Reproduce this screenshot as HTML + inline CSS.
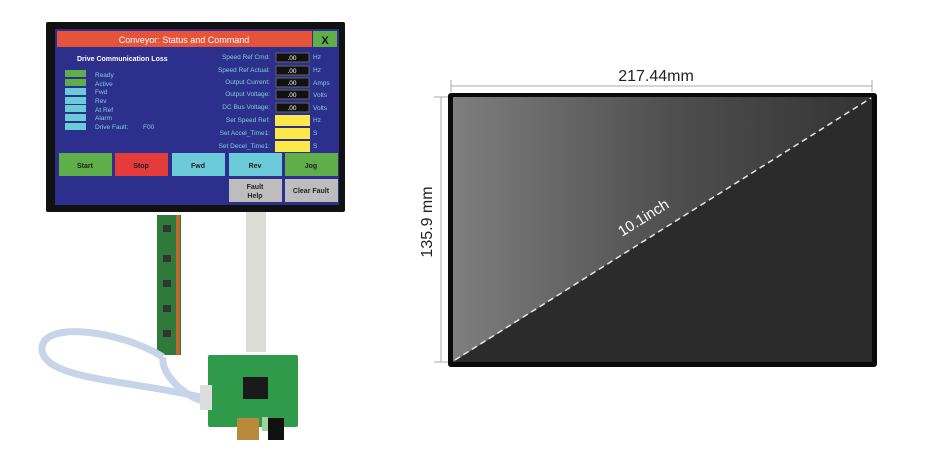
<!DOCTYPE html>
<html><head><meta charset="utf-8"><style>
body{margin:0;background:#fff;width:930px;height:451px;overflow:hidden}
svg{display:block}
text{font-family:"Liberation Sans",sans-serif}
</style></head><body>
<svg width="930" height="451" viewBox="0 0 930 451">
<defs>
<linearGradient id="g" x1="0" y1="0" x2="1" y2="0">
<stop offset="0" stop-color="#7e7e7e"/><stop offset="0.5" stop-color="#505050"/><stop offset="1" stop-color="#333"/>
</linearGradient>
</defs>
<rect x="46" y="22" width="299" height="190" fill="#111" rx="2"/>
<rect x="55" y="29" width="284" height="176" fill="#2c2f8c"/>
<rect x="57" y="31" width="255" height="16" fill="#e5533a"/>
<rect x="313" y="31" width="24" height="16" fill="#5fae4a"/>
<text x="184" y="43" font-size="9" fill="#fff" text-anchor="middle">Conveyor: Status and Command</text>
<text x="325" y="44" font-size="11" fill="#111" text-anchor="middle" font-weight="bold">X</text>
<text x="77" y="61" font-size="7" fill="#fff" font-weight="bold">Drive Communication Loss</text>
<g font-size="6.5" fill="#7fd0d8">
<rect x="65" y="70" width="21" height="7" fill="#5fae4a"/><text x="95" y="77">Ready</text>
<rect x="65" y="79" width="21" height="7" fill="#5fae4a"/><text x="95" y="86">Active</text>
<rect x="65" y="88" width="21" height="7" fill="#6ccbd9"/><text x="95" y="94">Fwd</text>
<rect x="65" y="97" width="21" height="7" fill="#6ccbd9"/><text x="95" y="103">Rev</text>
<rect x="65" y="105" width="21" height="7" fill="#6ccbd9"/><text x="95" y="112">At Ref</text>
<rect x="65" y="114" width="21" height="7" fill="#6ccbd9"/><text x="95" y="120">Alarm</text>
<rect x="65" y="123" width="21" height="7" fill="#6ccbd9"/><text x="95" y="129">Drive Fault:</text><text x="143" y="129">F00</text>
<text x="270" y="59" text-anchor="end">Speed Ref Cmd:</text>
<text x="270" y="72" text-anchor="end">Speed Ref Actual:</text>
<text x="270" y="84" text-anchor="end">Output Current:</text>
<text x="270" y="96" text-anchor="end">Output Voltage:</text>
<text x="270" y="109" text-anchor="end">DC Bus Voltage:</text>
<text x="270" y="122" text-anchor="end">Set Speed Ref:</text>
<text x="270" y="135" text-anchor="end">Set Accel_Time1:</text>
<text x="270" y="148" text-anchor="end">Set Decel_Time1:</text>
<text x="313" y="59">Hz</text><text x="313" y="72">Hz</text><text x="313" y="85">Amps</text>
<text x="313" y="97">Volts</text><text x="313" y="110">Volts</text><text x="313" y="122">Hz</text>
<text x="313" y="135">S</text><text x="313" y="148">S</text>
</g>
<g fill="#111" stroke="#666" stroke-width="1">
<rect x="276" y="53" width="33" height="9"/><rect x="276" y="66" width="33" height="9"/>
<rect x="276" y="78" width="33" height="9"/><rect x="276" y="90" width="33" height="9"/>
<rect x="276" y="103" width="33" height="9"/>
</g>
<g font-size="6.5" fill="#fff" text-anchor="middle">
<text x="292" y="60">.00</text><text x="292" y="73">.00</text><text x="292" y="85">.00</text><text x="292" y="97">.00</text><text x="292" y="110">.00</text>
</g>
<g fill="#fde84a"><rect x="275" y="115" width="35" height="11"/><rect x="275" y="128" width="35" height="11"/><rect x="275" y="141" width="35" height="11"/></g>
<rect x="59" y="153" width="53" height="23" fill="#5fae4a"/>
<rect x="115" y="153" width="53" height="23" fill="#e53b3b"/>
<rect x="172" y="153" width="53" height="23" fill="#6ccbd9"/>
<rect x="229" y="153" width="53" height="23" fill="#6ccbd9"/>
<rect x="285" y="153" width="53" height="23" fill="#5fae4a"/>
<rect x="229" y="179" width="53" height="23" fill="#bdbdbd"/>
<rect x="285" y="179" width="53" height="23" fill="#bdbdbd"/>
<g font-size="7" font-weight="bold" fill="#222" text-anchor="middle">
<text x="85" y="168">Start</text><text x="141" y="168">Stop</text><text x="198" y="168">Fwd</text>
<text x="255" y="168">Rev</text><text x="311" y="168">Jog</text>
<text x="255" y="189">Fault</text><text x="255" y="198">Help</text><text x="311" y="193">Clear Fault</text>
</g>
<rect x="246" y="212" width="20" height="140" fill="#dcdcd6"/>
<rect x="157" y="215" width="24" height="140" fill="#2f7a3a"/>
<rect x="176" y="215" width="4" height="140" fill="#b86a2a"/>
<g fill="#333"><rect x="163" y="225" width="8" height="7"/><rect x="163" y="255" width="8" height="7"/><rect x="163" y="280" width="8" height="7"/><rect x="163" y="305" width="8" height="7"/><rect x="163" y="330" width="8" height="7"/></g>
<path d="M163 357 C160 380 200 405 205 400 M163 357 C120 330 40 320 42 350 C45 380 130 380 205 398" fill="none" stroke="#c8d4e8" stroke-width="7"/>
<rect x="208" y="355" width="90" height="72" fill="#2f9a4a" rx="2"/>
<rect x="243" y="377" width="25" height="22" fill="#1a1a1a"/>
<rect x="200" y="385" width="12" height="25" fill="#ddd"/>
<rect x="237" y="418" width="22" height="22" fill="#b88a3a"/>
<rect x="268" y="418" width="16" height="22" fill="#111"/>
<rect x="262" y="417" width="6" height="14" fill="#9fd49a"/>
<line x1="451" y1="86" x2="872" y2="86" stroke="#aaa" stroke-width="1"/>
<line x1="451" y1="80" x2="451" y2="92" stroke="#aaa"/><line x1="872" y1="80" x2="872" y2="92" stroke="#aaa"/>
<text x="656" y="81" font-size="16" fill="#222" text-anchor="middle">217.44mm</text>
<line x1="441" y1="97" x2="441" y2="362" stroke="#aaa"/>
<line x1="434" y1="97" x2="448" y2="97" stroke="#aaa"/><line x1="434" y1="362" x2="448" y2="362" stroke="#aaa"/>
<text transform="translate(432,222) rotate(-90)" font-size="16" fill="#222" text-anchor="middle">135.9 mm</text>
<rect x="448" y="93" width="429" height="274" rx="3" fill="#0a0a0a"/>
<rect x="453" y="97" width="419" height="265" fill="url(#g)"/>
<polygon points="872,97 872,362 453,362" fill="#2b2b2b"/>
<line x1="455" y1="360" x2="871" y2="98" stroke="#e8e8e8" stroke-width="1.5" stroke-dasharray="6,4"/>
<text transform="translate(646,222) rotate(-32)" font-size="15" fill="#fff" text-anchor="middle">10.1inch</text>
</svg>
</body></html>
